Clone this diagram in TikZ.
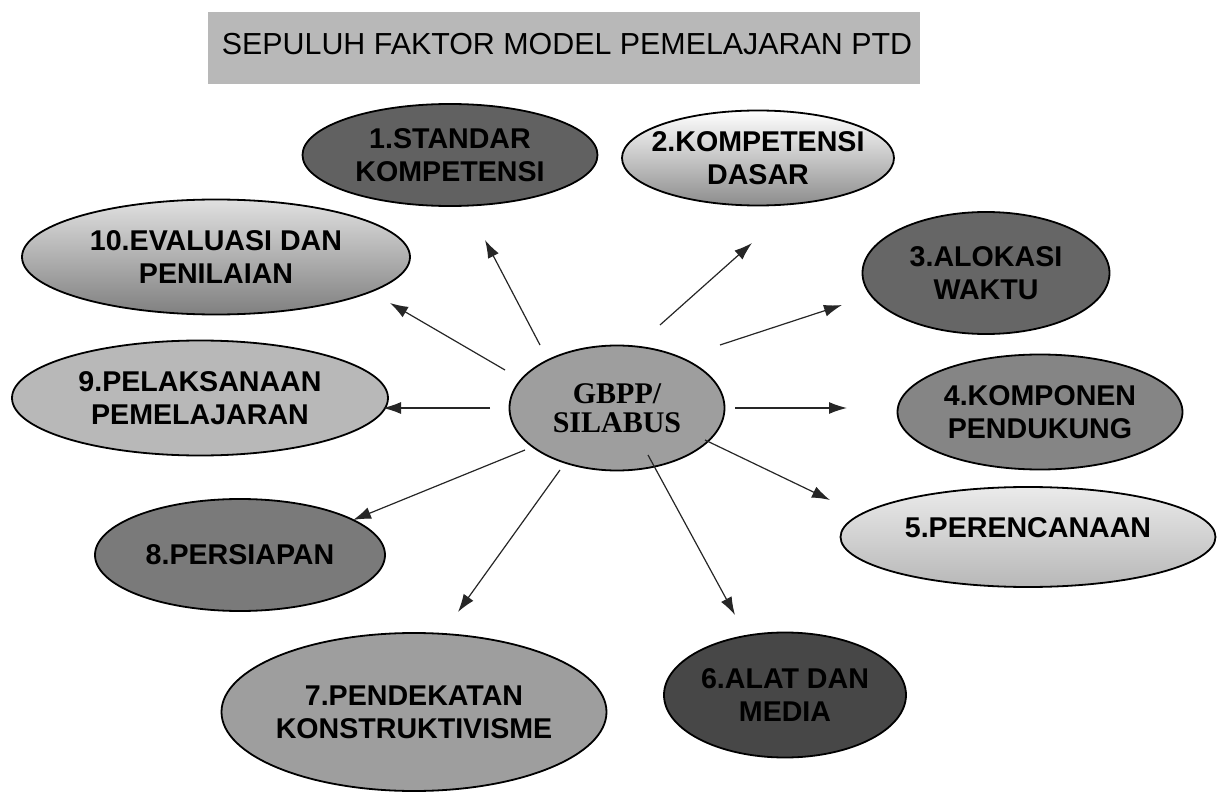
\documentclass[tikz,border=0pt]{standalone}
\usepackage{fontspec}
\setmainfont{Liberation Sans}
\newfontfamily\serifb{Liberation Serif}
\usetikzlibrary{shapes.geometric,arrows.meta}
\tikzset{
  el/.style 2 args={ellipse, draw=black, line width=0.9pt, align=center,
    inner xsep=-30pt, inner ysep=-12pt, minimum width={#1*0.5pt}, minimum height={#2*0.5pt},
    font=\bfseries\fontsize{14.3}{16.5}\selectfont},
  arr/.style={draw=black!85, line width=0.6pt, -{Latex[length=9pt,width=6pt]}},
}
\begin{document}
\begin{tikzpicture}[x=0.5pt,y=-0.5pt]
\useasboundingbox (0,0) rectangle (1217,792);
% title
\node[fill=black!28, minimum width=356pt, minimum height=36pt, inner sep=0pt] (titlebox) at (564,48) {};
\node[font=\fontsize{15.2}{18}\selectfont, text=black] (title) at (567,44) {SEPULUH FAKTOR MODEL PEMELAJARAN PTD};
% center
\node[el={215}{125}, fill=black!38, font=\serifb\bfseries\fontsize{15}{14.5}\selectfont] (c) at (617,408) {GBPP/\\SILABUS};
% factors
\node[el={295}{102}, fill=black!62] (n1) at (450,155) {1.STANDAR\\KOMPETENSI};
\node[el={272}{95}, top color=white, bottom color=black!45] (n2) at (758,158) {2.KOMPETENSI\\DASAR};
\node[el={247}{122}, fill=black!60] (n3) at (986,273) {3.ALOKASI\\WAKTU};
\node[el={285}{115}, fill=black!48] (n4) at (1040,412) {4.KOMPONEN\\PENDUKUNG};
\node[el={375}{100}, top color=black!8, bottom color=black!28] (n5) at (1028,537) {\raisebox{9pt}{5.PERENCANAAN}};
\node[el={242}{125}, fill=black!72] (n6) at (785,695) {6.ALAT DAN\\MEDIA};
\node[el={385}{158}, fill=black!38] (n7) at (414,712) {7.PENDEKATAN\\KONSTRUKTIVISME};
\node[el={290}{112}, fill=black!52] (n8) at (240,555) {8.PERSIAPAN};
\node[el={376}{115}, fill=black!28] (n9) at (200,398) {9.PELAKSANAAN\\PEMELAJARAN};
\node[el={388}{115}, top color=black!12, bottom color=black!50] (n10) at (216,257) {10.EVALUASI DAN\\PENILAIAN};
% arrow ends
\coordinate (s1) at (540,345);  \coordinate (e1) at (485,240);
\coordinate (s2) at (660,325);  \coordinate (e2) at (752,243);
\coordinate (s3) at (720,345);  \coordinate (e3) at (842,305);
\coordinate (s4) at (735,408);  \coordinate (e4) at (847,408);
\coordinate (s5) at (705,440);  \coordinate (e5) at (830,500);
\coordinate (s6) at (648,455);  \coordinate (e6) at (735,615);
\coordinate (s7) at (560,470);  \coordinate (e7) at (458,612);
\coordinate (s8) at (525,450);  \coordinate (e8) at (353,520);
\coordinate (s9) at (490,408);  \coordinate (e9) at (383,408);
\coordinate (s10) at (505,370); \coordinate (e10) at (390,303);
\foreach \i in {1,...,10} {\draw[arr] (s\i) -- (e\i);}
\end{tikzpicture}
\end{document}
